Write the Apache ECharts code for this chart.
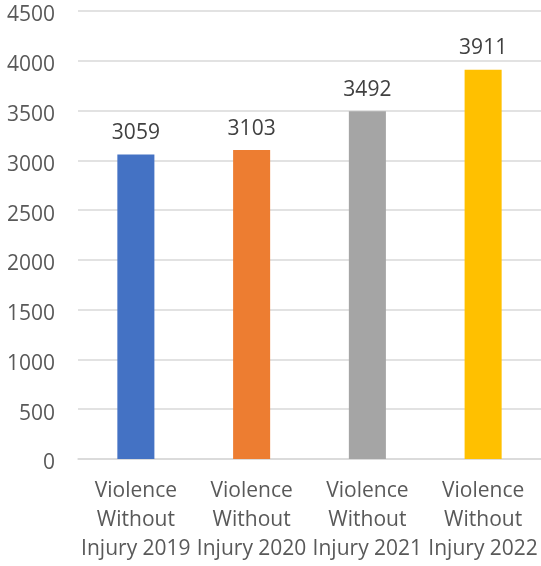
<!DOCTYPE html>
<html><head><meta charset="utf-8">
<script src="https://cdn.jsdelivr.net/npm/echarts@6/dist/echarts.min.js"></script>
<style>html,body{margin:0;padding:0;background:#fff}#c{width:541px;height:566px}</style>
</head><body><div id="c"></div>
<script>
const categories = ["Violence Without Injury 2019", "Violence Without Injury 2020", "Violence Without Injury 2021", "Violence Without Injury 2022"];
const values = [3059, 3103, 3492, 3911];
const barColors = ["#4472C4", "#ED7D31", "#A5A5A5", "#FFC000"];
const yTicks = [0, 500, 1000, 1500, 2000, 2500, 3000, 3500, 4000, 4500];

const chart = echarts.init(document.getElementById('c'));
const font = "'Open Sans', sans-serif";
chart.setOption({
  animation: false,
  grid: { left: 78, right: 0, top: 11, bottom: 107 },
  xAxis: {
    type: 'category',
    data: categories,
    axisLine: { lineStyle: { color: '#D9D9D9', width: 1.5 } },
    axisTick: { show: false },
    axisLabel: {
      interval: 0, margin: 18, color: '#595959', fontFamily: font, fontSize: 21, lineHeight: 29,
      formatter: v => { const p = v.split(' '); return p[0] + '\n' + p[1] + '\n' + p.slice(2).join(' '); }
    }
  },
  yAxis: {
    type: 'value', min: yTicks[0], max: yTicks[yTicks.length - 1], interval: 500,
    axisLine: { show: false }, axisTick: { show: false },
    splitLine: { lineStyle: { color: '#D9D9D9', width: 1.5 } },
    axisLabel: { margin: 23, color: '#595959', fontFamily: font, fontSize: 21, verticalAlign: 'top', lineHeight: 9, formatter: v => String(v) }
  },
  series: [{
    type: 'bar',
    barWidth: '32%',
    data: values.map((v, i) => ({ value: v, itemStyle: { color: barColors[i] } })),
    label: { show: true, position: 'top', distance: 11, color: '#404040', fontFamily: font, fontSize: 21 }
  }]
});
</script></body></html>
